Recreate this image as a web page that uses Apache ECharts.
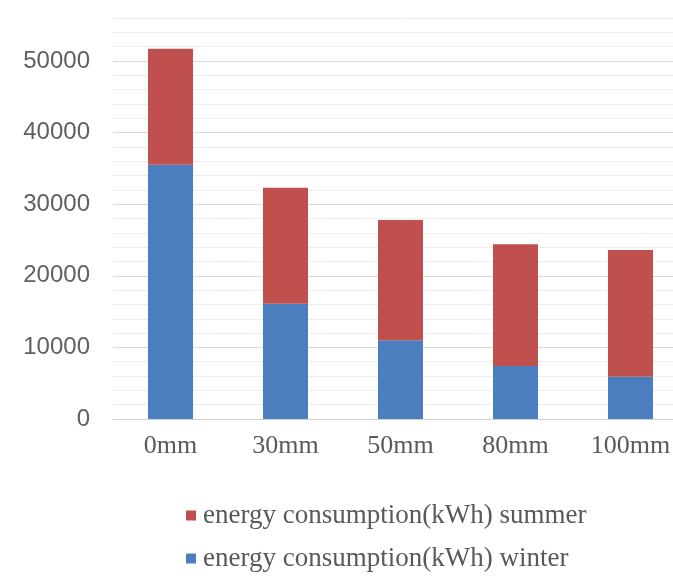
<!DOCTYPE html>
<html>
<head>
<meta charset="utf-8">
<title>Energy consumption by insulation thickness</title>
<script src="https://cdn.jsdelivr.net/npm/echarts@6/dist/echarts.min.js"></script>
<style>
  html, body { margin: 0; padding: 0; background: #ffffff; overflow: hidden; }
  /* the plot area runs slightly past the right edge of the page */
  #chart { width: 688px; height: 580px; }
</style>
</head>
<body>
<div id="chart"></div>
<script>
// Insulation thickness categories
const thickness = ['0mm', '30mm', '50mm', '80mm', '100mm'];
// Winter consumption (kWh), bottom segment of each stack
const winterKWh = [35500, 16100, 11000, 7400, 5900];
// Summer consumption (kWh), stacked above winter
const summerKWh = [16200, 16200, 16800, 17000, 17700];
// Labelled ticks of the value axis
const valueTicks = [0, 10000, 20000, 30000, 40000, 50000];

const seriesNames = {
  summer: 'energy consumption(kWh) summer',
  winter: 'energy consumption(kWh) winter'
};

const chart = echarts.init(document.getElementById('chart'), null, { renderer: 'canvas' });

const option = {
  backgroundColor: '#ffffff',
  animation: false,
  grid: { left: 113, top: 18, right: 0, bottom: 161, containLabel: false },
  legend: {
    orient: 'vertical',
    left: 181,
    top: 497,
    itemWidth: 10,
    itemHeight: 10,
    itemGap: 16,
    icon: 'rect',
    data: [seriesNames.summer, seriesNames.winter],
    textStyle: {
      fontFamily: '"Liberation Serif", "Times New Roman", serif',
      fontSize: 27,
      color: '#595959',
      padding: [0, 0, 0, 2]
    }
  },
  xAxis: {
    type: 'category',
    data: thickness,
    axisTick: { show: false },
    axisLine: { show: true, lineStyle: { color: '#d0d0d0', width: 1 } },
    axisLabel: {
      margin: 14,
      fontFamily: '"Liberation Serif", "Times New Roman", serif',
      fontSize: 26,
      color: '#595959'
    }
  },
  yAxis: {
    type: 'value',
    min: 0,
    max: 56000,
    interval: 2000,
    axisLine: { show: false },
    axisTick: { show: false },
    axisLabel: {
      margin: 23,
      fontFamily: '"Liberation Sans", Arial, sans-serif',
      fontSize: 24,
      color: '#606060',
      formatter: function (v) { return valueTicks.indexOf(v) >= 0 ? String(v) : ''; }
    },
    splitLine: {
      show: true,
      lineStyle: {
        color: ['#d9d9d9', '#eeeeee', '#eeeeee', '#eeeeee', '#eeeeee'],
        width: 1
      }
    }
  },
  series: [
    {
      name: seriesNames.winter,
      type: 'bar',
      stack: 'energy',
      barWidth: 45,
      data: winterKWh,
      itemStyle: { color: '#4a7ebf' }
    },
    {
      name: seriesNames.summer,
      type: 'bar',
      stack: 'energy',
      barWidth: 45,
      data: summerKWh,
      itemStyle: { color: '#c0504d' }
    }
  ]
};

chart.setOption(option);
</script>
</body>
</html>
